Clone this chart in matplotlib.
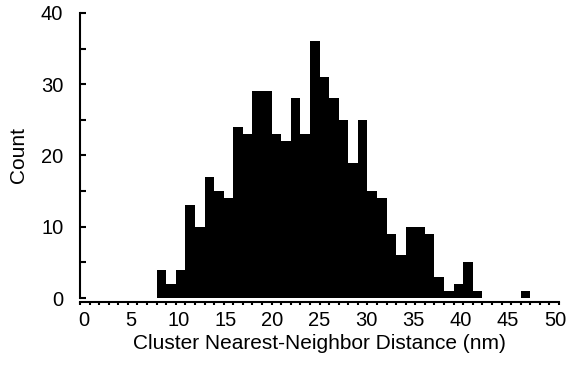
import numpy as np
import matplotlib
matplotlib.use("Agg")
import matplotlib.pyplot as plt
from matplotlib.ticker import MultipleLocator, NullFormatter

plt.rcParams['font.family'] = ['Liberation Sans', 'DejaVu Sans']

# 1 nm bins, left edges 0..49
bin_left = np.arange(0, 50)
counts = [0, 0, 0, 0, 0, 0, 0, 0, 4, 2,
          4, 13, 10, 17, 15, 14, 24, 23, 29, 29,
          23, 22, 28, 23, 36, 31, 28, 25, 19, 25,
          15, 14, 9, 6, 10, 10, 9, 3, 1, 2,
          5, 1, 0, 0, 0, 0, 1, 0, 0, 0]
xtick_vals = [0, 5, 10, 15, 20, 25, 30, 35, 40, 45, 50]

fs = 14.5

fig = plt.figure(figsize=(5.67, 3.69), dpi=100)
ax = fig.add_axes([0.1411, 0.1924, 0.8448, 0.7724])

ax.bar(bin_left, counts, width=1.0, align='edge', color='black', linewidth=0)

ax.set_xlim(0, 50)
ax.set_ylim(0, 40)

for s in ['top', 'right']:
    ax.spines[s].set_visible(False)
ax.spines['left'].set_linewidth(1.5)
ax.spines['bottom'].set_linewidth(1.5)
ax.spines['bottom'].set_position(('outward', 3))

ax.xaxis.set_major_locator(MultipleLocator(5))
ax.xaxis.set_minor_locator(MultipleLocator(1))
ax.xaxis.set_major_formatter(NullFormatter())
ax.yaxis.set_major_locator(MultipleLocator(10))
ax.yaxis.set_minor_locator(MultipleLocator(5))

ax.tick_params(axis='x', which='both', direction='out', length=2.5, width=1.5)
ax.tick_params(axis='y', which='both', direction='in', length=4.5, width=1.5,
               labelsize=fs, pad=12)

# x tick labels drawn by hand, pulled slightly inward toward the centre
for v in xtick_vals:
    dx = (4 - 0.16 * v) * 0.72
    ax.annotate(str(v), xy=(v, 0), xycoords=('data', 'axes fraction'),
                xytext=(dx, -9.5), textcoords='offset points',
                ha='center', va='top', fontsize=fs)

ax.set_xlabel('Cluster Nearest-Neighbor Distance (nm)', fontsize=15)
ax.xaxis.set_label_coords(0.5, -0.126)
ax.set_ylabel('Count', fontsize=15, labelpad=9)

fig.savefig('out.png', dpi=100)
